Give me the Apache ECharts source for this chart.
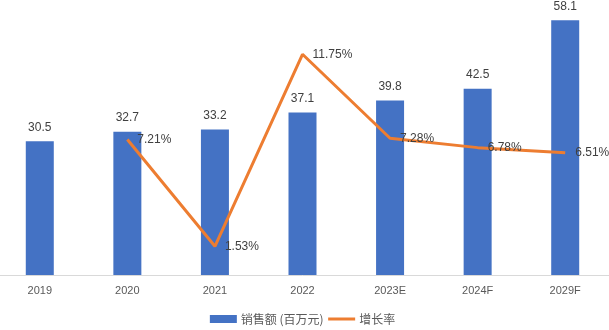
<!DOCTYPE html>
<html>
<head>
<meta charset="utf-8">
<script src="https://cdn.jsdelivr.net/npm/echarts@6/dist/echarts.min.js"></script>
<style>
  html, body { margin: 0; padding: 0; background: #fff; overflow: hidden; }
  #chart { position: relative; left: -4px; width: 613px; height: 330px; }
</style>
</head>
<body>
<div id="chart"></div>
<script>
// Sales (million yuan) and year-on-year growth rate (%)
const categories = ['2019', '2020', '2021', '2022', '2023E', '2024F', '2029F'];
const salesValues = [30.5, 32.7, 33.2, 37.1, 39.8, 42.5, 58.1];
const growthValues = [null, 7.21, 1.53, 11.75, 7.28, 6.78, 6.51];
const salesName = '销售额 (百万元)';
const growthName = '增长率';

const chart = echarts.init(document.getElementById('chart'));
const textFont = 'Liberation Sans, Arial, sans-serif';

chart.setOption({
  animation: false,
  backgroundColor: '#ffffff',
  grid: { left: 0, right: 0, top: 12, bottom: 55, containLabel: false },
  legend: {
    bottom: 0,
    left: 'center',
    itemGap: 3,
    itemWidth: 27,
    itemHeight: 8,
    textStyle: { fontSize: 12, color: '#595959', fontFamily: 'Noto Sans CJK SC, sans-serif', padding: [0, 0, 0, -1] },
    data: [
      { name: salesName, icon: 'rect' },
      {
        name: growthName,
        itemStyle: { opacity: 0 },
        lineStyle: { color: '#ED7D31', width: 3 }
      }
    ]
  },
  xAxis: {
    type: 'category',
    data: categories,
    axisLine: { lineStyle: { color: '#D9D9D9', width: 1 } },
    axisTick: { show: false },
    axisLabel: { color: '#595959', fontSize: 11, fontFamily: textFont, margin: 10 }
  },
  yAxis: [
    { type: 'value', min: 0, max: 60, show: false, splitLine: { show: false } },
    { type: 'value', min: 0, max: 14, show: false, splitLine: { show: false } }
  ],
  series: [
    {
      name: salesName,
      type: 'bar',
      data: salesValues,
      barWidth: 28,
      itemStyle: { color: '#4472C4' },
      label: {
        show: true,
        position: 'top',
        distance: 8,
        color: '#404040',
        fontSize: 12,
        fontFamily: textFont
      }
    },
    {
      name: growthName,
      type: 'line',
      yAxisIndex: 1,
      data: growthValues,
      symbol: 'circle',
      symbolSize: 0,
      showSymbol: true,
      connectNulls: false,
      lineStyle: { color: '#ED7D31', width: 3 },
      itemStyle: { color: '#ED7D31' },
      label: {
        show: true,
        position: 'right',
        distance: 10,
        color: '#404040',
        fontSize: 12,
        fontFamily: textFont,
        formatter: p => p.value == null ? '' : p.value.toFixed(2) + '%'
      },
      z: 3
    }
  ]
});
</script>
</body>
</html>
